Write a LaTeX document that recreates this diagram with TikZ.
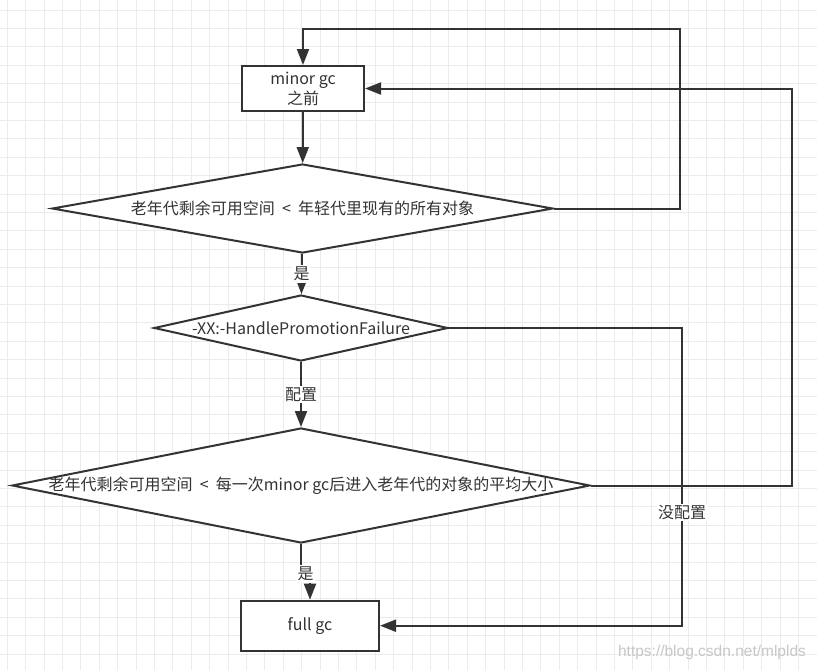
\documentclass[tikz,border=0pt]{standalone}
\usepackage{fontspec}
\usepackage{tikz}
\usetikzlibrary{arrows.meta,shapes.geometric}
\newfontfamily\cjk{Noto Sans CJK SC}
\newfontfamily\marksf{Liberation Sans}
\definecolor{ink}{HTML}{333333}
\definecolor{gridc}{HTML}{EBEBEB}
\newcommand{\overtext}[1]{\makebox[0pt]{#1}}

\begin{document}
\begin{tikzpicture}[
  x=1pt, y=-1pt,
  gridln/.style={gridc, line width=1pt},
  proc/.style={draw=ink, line width=2pt, fill=white, text=ink, align=center,
               font=\cjk\fontsize{16}{20}\selectfont},
  decision/.style={diamond, draw=ink, line width=2pt, fill=white, text=ink,
               inner sep=0pt, font=\cjk\fontsize{16}{20}\selectfont},
  flow/.style={-{Triangle[length=16pt,width=12pt]}, line width=2pt, draw=ink},
  lbl/.style={fill=white, text=ink, inner sep=1.5pt, font=\cjk\fontsize{16}{20}\selectfont},
]
\useasboundingbox (0,0) rectangle (817,670);
\fill[white] (0,0) rectangle (817,670);
% Grid
\foreach \k in {0,...,43} \draw[gridln] ({7.3+18.4*\k},0) -- ++(0,670);
\foreach \k in {0,...,35} \draw[gridln] (0,{10+18.4*\k}) -- ++(817,0);
% Nodes
\node[proc, minimum width=122pt, minimum height=45pt] (minor) at (303,88.5) {minor gc\\之前};
\node[decision, minimum width=501pt, minimum height=89pt] (q1) at (302.5,208.5)
     {\overtext{老年代剩余可用空间\ \ <\ \ 年轻代里现有的所有对象}};
\node[decision, minimum width=294pt, minimum height=66pt] (q2) at (301,328)
     {\overtext{-XX:-HandlePromotionFailure}};
\node[decision, minimum width=578pt, minimum height=115pt] (q3) at (301,485.5)
     {\overtext{老年代剩余可用空间\ \ <\ \ 每一次minor gc后进入老年代的对象的平均大小}};
\node[proc, minimum width=138pt, minimum height=50pt] (full) at (310,625.7) {full gc};
\coordinate (topr) at (680,29);
\coordinate (farr) at (792,88.5);
\coordinate (turn) at (682,625.7);
% Connectors
\draw[flow] (minor) -- (q1);
\draw[flow] (q1) -- node[lbl]{是} (q2);
\draw[flow] (q2) -- node[lbl]{配置} (q3);
\draw[flow] (q3.south) -- ++(0,30) -| node[lbl,pos=0.25]{是} (full.north);
\draw[flow] (q1.east) -| (topr) -| (minor.north);
\draw[flow] (q3.east) -| (farr) -- (minor.east);
\draw[flow] (q2.east) -| node[lbl,pos=0.81]{没配置} (turn) -- (full.east);
% Watermark
\node[font=\marksf\fontsize{15.5}{18}\selectfont, text=black!22] (mark) at (712,652)
     {https://blog.csdn.net/mlplds};
\end{tikzpicture}
\end{document}
